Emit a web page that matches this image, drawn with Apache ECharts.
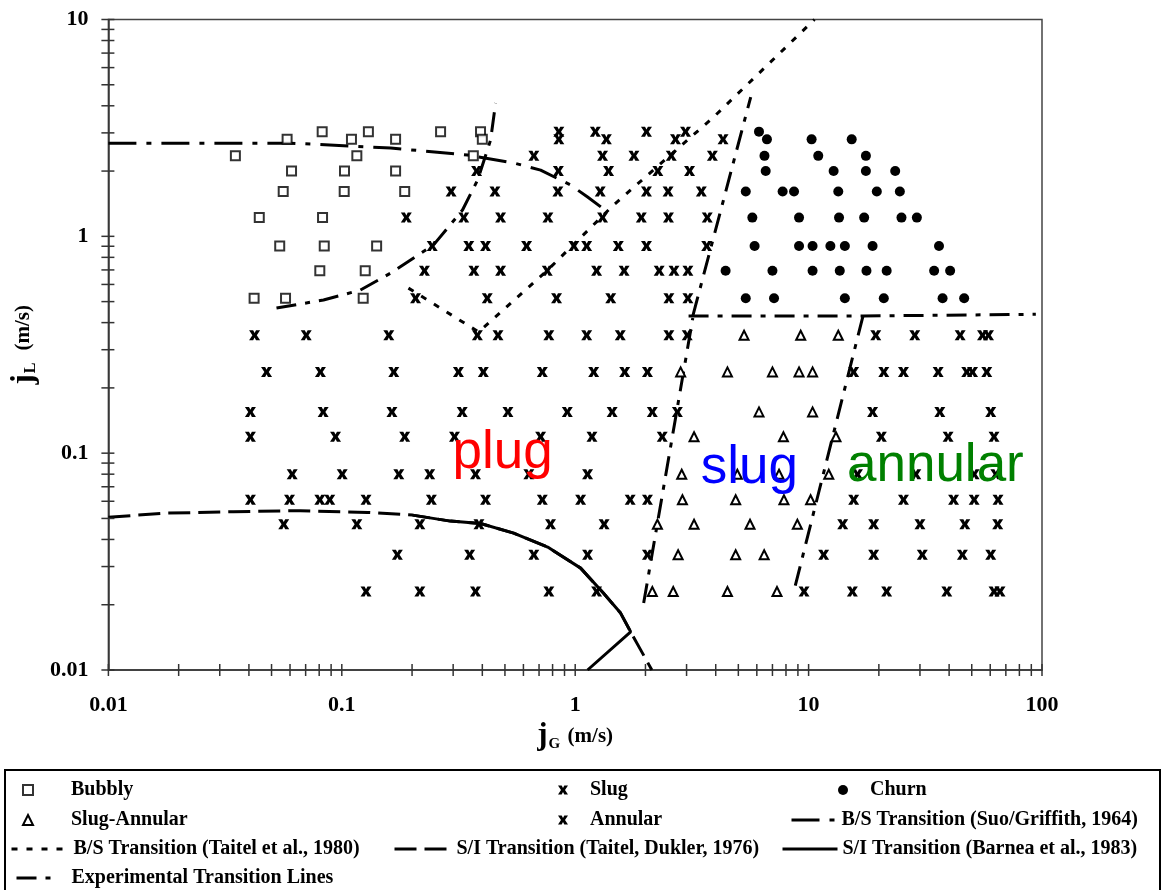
<!DOCTYPE html>
<html><head><meta charset="utf-8">
<script src="https://cdn.jsdelivr.net/npm/echarts@6/dist/echarts.min.js"></script>
<style>html,body{margin:0;padding:0;background:#fff}#c{width:1164px;height:890px}</style>
</head><body><div id="c"></div>
<script>
// ---------------- DATA (jG [m/s], jL [m/s]) ----------------
const bubbly = [[0.035,2.35],[0.0583,2.8],[0.0824,3.04],[0.110,2.8],[0.116,2.35],[0.130,3.04],[0.170,2.8],[0.265,3.04],[0.393,3.04],[0.40,2.8],[0.366,2.35],
 [0.0609,2.0],[0.1027,2.0],[0.170,2.0],[0.0561,1.61],[0.1024,1.61],[0.186,1.61],[0.0443,1.22],[0.0827,1.22],
 [0.0542,0.902],[0.0841,0.902],[0.141,0.902],[0.0805,0.694],[0.126,0.694],[0.0421,0.518],[0.0574,0.518],[0.1235,0.518]];
const slug = [
 [0.851,3.04],[1.22,3.04],[2.02,3.04],[2.97,3.04],
 [0.851,2.8],[1.36,2.8],[2.69,2.8],[4.30,2.8],
 [0.665,2.35],[1.31,2.35],[1.785,2.35],[2.58,2.35],[3.87,2.35],
 [0.378,2.0],[0.847,2.0],[1.39,2.0],[2.26,2.0],[3.09,2.0],
 [0.294,1.61],[0.453,1.61],[0.843,1.61],[1.28,1.61],[2.02,1.61],[2.50,1.61],[3.47,1.61],
 [0.189,1.22],[0.333,1.22],[0.479,1.22],[0.764,1.22],[1.31,1.22],[1.92,1.22],[2.51,1.22],[3.68,1.22],
 [0.244,0.902],[0.350,0.902],[0.413,0.902],[0.619,0.902],[0.987,0.902],[1.12,0.902],[1.53,0.902],[2.02,0.902],[3.66,0.902],
 [0.226,0.694],[0.368,0.694],[0.479,0.694],[0.759,0.694],[1.235,0.694],[1.62,0.694],[2.29,0.694],[2.65,0.694],[3.04,0.694],
 [0.207,0.518],[0.420,0.518],[0.832,0.518],[1.42,0.518],[2.52,0.518],[3.04,0.518],
 [0.0423,0.35],[0.0704,0.35],[0.159,0.35],[0.381,0.35],[0.467,0.35],[0.771,0.35],[1.12,0.35],[1.56,0.35],[2.52,0.35],[3.02,0.35],
 [0.0476,0.237],[0.081,0.237],[0.167,0.237],[0.316,0.237],[0.404,0.237],[0.723,0.237],[1.20,0.237],[1.63,0.237],[2.04,0.237],
 [0.0406,0.155],[0.0832,0.155],[0.164,0.155],[0.328,0.155],[0.515,0.155],[0.925,0.155],[1.44,0.155],[2.14,0.155],[2.74,0.155],
 [0.0406,0.119],[0.094,0.119],[0.186,0.119],[0.304,0.119],[0.711,0.119],[1.18,0.119],[2.36,0.119],
 [0.0613,0.080],[0.1004,0.080],[0.1755,0.080],[0.238,0.080],[0.374,0.080],[0.633,0.080],[1.13,0.080],
 [0.0406,0.061],[0.0597,0.061],[0.0805,0.061],[0.0888,0.061],[0.127,0.061],[0.242,0.061],[0.413,0.061],[0.723,0.061],[1.055,0.061],[1.72,0.061],[2.04,0.061],
 [0.0564,0.047],[0.116,0.047],[0.216,0.047],[0.387,0.047],[0.784,0.047],[1.33,0.047],
 [0.173,0.034],[0.353,0.034],[0.665,0.034],[1.13,0.034],[2.04,0.034],
 [0.127,0.023],[0.216,0.023],[0.374,0.023],[0.771,0.023],[1.235,0.023]];
const churn = [[6.13,3.04],
 [6.63,2.8],[10.3,2.8],[15.3,2.8],
 [6.47,2.35],[11.0,2.35],[17.6,2.35],
 [6.55,2.0],[12.8,2.0],[17.6,2.0],[23.5,2.0],
 [5.38,1.61],[7.74,1.61],[8.66,1.61],[13.4,1.61],[19.6,1.61],[24.6,1.61],
 [5.74,1.22],[9.10,1.22],[13.5,1.22],[17.3,1.22],[25.0,1.22],[29.1,1.22],
 [5.87,0.902],[9.10,0.902],[10.4,0.902],[12.4,0.902],[14.3,0.902],[18.8,0.902],[36.2,0.902],
 [4.41,0.694],[7.0,0.694],[10.4,0.694],[13.6,0.694],[17.7,0.694],[21.6,0.694],[34.5,0.694],[40.4,0.694],
 [5.38,0.518],[7.11,0.518],[14.3,0.518],[21.0,0.518],[37.5,0.518],[46.4,0.518]];
const slugAnnular = [[5.29,0.35],[9.25,0.35],[13.4,0.35],
 [2.83,0.237],[4.49,0.237],[7.0,0.237],[9.10,0.237],[10.4,0.237],
 [6.13,0.155],[10.4,0.155],
 [3.23,0.119],[7.80,0.119],[13.1,0.119],
 [2.86,0.080],[4.95,0.080],[7.47,0.080],[12.2,0.080],
 [2.88,0.061],[4.87,0.061],[7.84,0.061],[10.2,0.061],
 [2.25,0.047],[3.23,0.047],[5.61,0.047],[8.95,0.047],
 [2.76,0.034],[4.87,0.034],[6.45,0.034],
 [2.14,0.023],[2.63,0.023],[4.49,0.023],[7.32,0.023]];
const annular = [[19.4,0.35],[28.5,0.35],[44.6,0.35],[55.6,0.35],[59.0,0.35],
 [15.6,0.237],[21.0,0.237],[25.5,0.237],[35.9,0.237],[47.6,0.237],[50.4,0.237],[58.0,0.237],
 [18.8,0.155],[36.5,0.155],[60.3,0.155],
 [20.5,0.119],[39.6,0.119],[62.3,0.119],
 [16.2,0.080],[28.8,0.080],[51.2,0.080],[63.4,0.080],
 [15.6,0.061],[25.5,0.061],[41.8,0.061],[51.2,0.061],[64.8,0.061],
 [14.0,0.047],[19.0,0.047],[30.0,0.047],[46.7,0.047],[64.6,0.047],
 [11.6,0.034],[19.0,0.034],[30.7,0.034],[45.6,0.034],[60.3,0.034],
 [9.56,0.023],[15.4,0.023],[21.6,0.023],[39.1,0.023],[62.3,0.023],[66.1,0.023]];

// transition lines
const suoGriffith = [[0.01,2.69],[0.0603,2.69],[0.162,2.555],[0.346,2.37],[0.545,2.18],[0.711,2.02],[0.955,1.725],[1.13,1.518],[1.38,1.294]];
const taitel1980 = [[0.193,0.577],[0.386,0.362],[0.762,0.699],[1.46,1.394],[3.92,3.55],[10.6,10]];
const taitelDukler1976 = [[0.01,0.0507],[0.0179,0.0529],[0.0343,0.0537],[0.0665,0.0543],[0.129,0.0533],[0.201,0.0518],[0.292,0.0486],[0.393,0.0474],[0.545,0.0428],[0.762,0.0369],[1.055,0.0295],[1.32,0.02263],[1.565,0.0183],[1.728,0.015],[1.91,0.01235],[2.13,0.01]];
const barnea1983 = [[0.201,0.0518],[0.292,0.0486],[0.393,0.0474],[0.545,0.0428],[0.762,0.0369],[1.055,0.0295],[1.32,0.02263],[1.565,0.0183],[1.728,0.015],[1.13,0.01]];
const expBubblySlug = [[0.0525,0.467],[0.0835,0.5085],[0.120,0.565],[0.162,0.677],[0.247,0.912],[0.329,1.322],[0.382,1.819],[0.434,2.78],[0.456,4.12]];
const expSlugSlugAnnular = [[1.965,0.02035],[3.19,0.42]];
const expChurnBoundary = [[3.06,0.429],[17.1,0.429],[94.1,0.437]];
const expSlugAnnularAnnular = [[17.1,0.429],[8.63,0.02287]];
const expSlugChurn = [[3.19,0.429],[5.65,4.39]];

// annotations
const annotationText = ['plug','slug','annular'];
const annotationAt = [[0.298,0.0995],[3.45,0.0848],[14.6,0.0871]];

// axes
const xTickLabels = ['0.01','0.1','1','10','100'];
const yTickLabels = ['0.01','0.1','1','10'];
const xDecades = [0.01,0.1,1,10];
const yDecades = [0.01,0.1,1];
const tickMultipliers = [1,2,3,4,5,6,7,8,9];

// ---------------- CHART ----------------
const X_MIN = 0.01, X_MAX = 100, Y_MIN = 0.01, Y_MAX = 10;
const xTicks = []; xDecades.forEach(d => tickMultipliers.forEach(m => xTicks.push(+(d*m).toPrecision(3)))); xTicks.push(X_MAX);
const yTicks = []; yDecades.forEach(d => tickMultipliers.forEach(m => yTicks.push(+(d*m).toPrecision(3)))); yTicks.push(Y_MAX);

const SERIF = '"Liberation Serif","Times New Roman",serif';
const SANS = '"Liberation Sans",Arial,sans-serif';
const annotationColors = ['#ff0000','#0000ff','#008000'];
const xPath = 'path://M0 0 L3.7 0 L5 2.5 L6.3 0 L10 0 L7 4.5 L10 9 L6.3 9 L5 6.5 L3.7 9 L0 9 L3 4.5 Z';

const chart = echarts.init(document.getElementById('c'), null, {renderer:'canvas'});

function lineSeries(name, data, type) {
  return {type:'line', name, data, symbol:'none', showSymbol:false, silent:true, z:2,
    itemStyle:{color:'rgba(0,0,0,0)', borderColor:'rgba(0,0,0,0)'},
    lineStyle:{color:'#000', width:3, type: type, cap:'butt'}, animation:false};
}
const dashDot = [20, 9, 5, 9];

const legendSpec = [
  {name:'Bubbly', left:22, top:780, w:10, h:10, pad:33},
  {name:'Slug', left:558, top:780, w:10, h:10, pad:17},
  {name:'Churn', left:838, top:780, w:10, h:10, pad:17},
  {name:'Slug-Annular', left:22, top:810, w:10, h:10, pad:33},
  {name:'Annular', left:558, top:810, w:10, h:10, pad:17},
  {name:'B/S Transition (Suo/Griffith, 1964)', left:790, top:810, w:45, h:14, pad:0},
  {name:'B/S Transition (Taitel et al., 1980)', left:10, top:839, w:52, h:14, pad:5},
  {name:'S/I Transition (Taitel, Dukler, 1976)', left:393, top:839, w:57, h:14, pad:0},
  {name:'S/I Transition (Barnea et al., 1983)', left:781, top:839, w:55, h:14, pad:0},
  {name:'Experimental Transition Lines', left:15, top:868, w:42, h:14, pad:8}
];

const option = {
  animation:false,
  backgroundColor:'#fff',
  grid:{left:108, right:122, top:19.5, bottom:220, show:true, borderColor:'#444', borderWidth:1.5, backgroundColor:'transparent'},
  xAxis:{type:'log', logBase:10, min:X_MIN, max:X_MAX,
    axisLine:{show:true, lineStyle:{color:'#333', width:1.5}}, axisTick:{show:false}, splitLine:{show:false}, minorTick:{show:false},
    axisLabel:{margin:24, color:'#000', fontFamily:SERIF, fontWeight:'bold', fontSize:22,
      formatter:(v)=>{ const i = Math.round(Math.log10(v)) + 2; return xTickLabels[i] || ''; }},
    name:'{j|j}{s|G} {u|(m/s)}', nameLocation:'middle', nameGap:46,
    nameTextStyle:{color:'#000', rich:{
      j:{fontSize:31, fontFamily:SERIF, fontWeight:'bold', color:'#000'},
      s:{fontSize:15, fontFamily:SERIF, fontWeight:'bold', color:'#000', verticalAlign:'bottom', padding:[0,4,0,1]},
      u:{fontSize:21, fontFamily:SERIF, fontWeight:'bold', color:'#000'}}}
  },
  yAxis:{type:'log', logBase:10, min:Y_MIN, max:Y_MAX,
    axisLine:{show:true, lineStyle:{color:'#333', width:1.5}}, axisTick:{show:false}, splitLine:{show:false}, minorTick:{show:false},
    axisLabel:{margin:20, color:'#000', fontFamily:SERIF, fontWeight:'bold', fontSize:22,
      formatter:(v)=>{ const i = Math.round(Math.log10(v)) + 2; return yTickLabels[i] || ''; }},
    name:'{j|j}{s|L}   {u|(m/s)}', nameLocation:'middle', nameRotate:90, nameGap:64,
    nameTextStyle:{color:'#000', rich:{
      j:{fontSize:31, fontFamily:SERIF, fontWeight:'bold', color:'#000'},
      s:{fontSize:16, fontFamily:SERIF, fontWeight:'bold', color:'#000', verticalAlign:'bottom', padding:[0,2,0,1]},
      u:{fontSize:21, fontFamily:SERIF, fontWeight:'bold', color:'#000'}}}
  },
  legend: legendSpec.map(s => ({data:[s.name], left:s.left, top:s.top, itemWidth:s.w, itemHeight:s.h,
    padding:0, itemGap:0, selectedMode:false, symbolKeepAspect:true,
    lineStyle:{color:'#000', width:3},
    textStyle:{color:'#000', fontFamily:SERIF, fontWeight:'bold', fontSize:20, padding:[0,0,0,s.pad]}})),
  graphic:[{type:'rect', silent:true, shape:{x:5, y:770, width:1155, height:130}, style:{fill:'none', stroke:'#000', lineWidth:2}}],
  series:[
    lineSeries('B/S Transition (Suo/Griffith, 1964)', suoGriffith, [28,10,5,10]),
    lineSeries('B/S Transition (Taitel et al., 1980)', taitel1980, [6,9]),
    lineSeries('S/I Transition (Taitel, Dukler, 1976)', taitelDukler1976, [22,8]),
    lineSeries('S/I Transition (Barnea et al., 1983)', barnea1983, 'solid'),
    lineSeries('Experimental Transition Lines', expBubblySlug, dashDot),
    lineSeries('Experimental Transition Lines', expSlugSlugAnnular, dashDot),
    lineSeries('Experimental Transition Lines', expChurnBoundary, dashDot),
    lineSeries('Experimental Transition Lines', expSlugAnnularAnnular, dashDot),
    lineSeries('Experimental Transition Lines', expSlugChurn, dashDot),
    {type:'scatter', name:'Bubbly', data:bubbly, symbol:'rect', symbolSize:9, z:4, silent:true,
      itemStyle:{color:'#fff', borderColor:'#000', borderWidth:2}},
    {type:'scatter', name:'Slug', data:slug, symbol:xPath, symbolSize:[11,10], z:4, silent:true,
      itemStyle:{color:'#000', opacity:1}},
    {type:'scatter', name:'Churn', data:churn, symbol:'circle', symbolSize:10, z:4, silent:true,
      itemStyle:{color:'#000', opacity:1}},
    {type:'scatter', name:'Slug-Annular', data:slugAnnular, symbol:'triangle', symbolSize:9, z:4, silent:true,
      itemStyle:{color:'#fff', borderColor:'#000', borderWidth:2, opacity:1}},
    {type:'scatter', name:'Annular', data:annular, symbol:xPath, symbolSize:[11,10], z:4, silent:true,
      itemStyle:{color:'#000', opacity:1}},
    {type:'custom', name:'_xticks', silent:true, clip:false, z:5, data:xTicks.map(v=>[v, Y_MIN]),
      renderItem:(p, api)=>{ const c = api.coord([api.value(0), api.value(1)]);
        return {type:'line', shape:{x1:c[0], y1:c[1]-6, x2:c[0], y2:c[1]+6}, style:{stroke:'#333', lineWidth:1.5}}; }},
    {type:'custom', name:'_yticks', silent:true, clip:false, z:5, data:yTicks.map(v=>[X_MIN, v]),
      renderItem:(p, api)=>{ const c = api.coord([api.value(0), api.value(1)]);
        return {type:'line', shape:{x1:c[0]-7, y1:c[1], x2:c[0]+6, y2:c[1]}, style:{stroke:'#333', lineWidth:1.5}}; }},
    {type:'custom', name:'_annot', silent:true, clip:false, z:6, data:annotationAt,
      renderItem:(p, api)=>{ const c = api.coord([api.value(0), api.value(1)]);
        return {type:'text', x:c[0], y:c[1], style:{text:annotationText[p.dataIndex], fill:annotationColors[p.dataIndex],
          font:'53px ' + SANS, align:'left', verticalAlign:'middle'}}; }}
  ]
};
chart.setOption(option);
</script>
</body></html>
